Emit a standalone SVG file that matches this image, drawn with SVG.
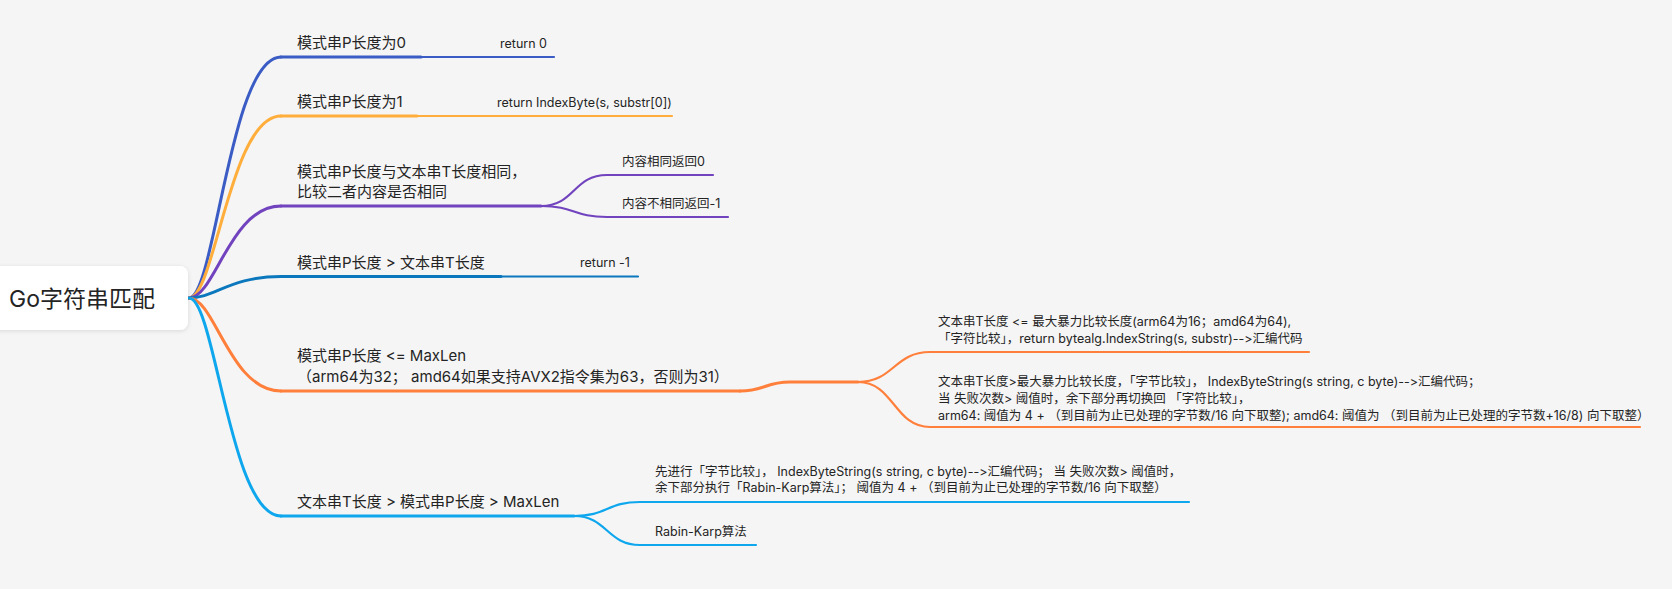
<svg xmlns="http://www.w3.org/2000/svg" width="1672" height="589" viewBox="0 0 1672 589">
<style>
text{font-family:Inter,"Noto Sans CJK SC",sans-serif;fill:#242424;font-feature-settings:"calt" 0,"liga" 0;font-variant-ligatures:none}
.m{font-size:15px}
.c{font-size:12.5px}
.r{font-size:23px}
path,line{fill:none;stroke-linecap:round}
.w3{stroke-width:3}
.w2{stroke-width:2.2}
.b1{stroke:#3A5CC4}.b2{stroke:#FFAE3C}.b3{stroke:#7143BE}.b4{stroke:#0B77BD}.b5{stroke:#FF7F3B}.b6{stroke:#0EA7EE}
</style>
<defs>
<filter id="sh" x="-20%" y="-30%" width="140%" height="160%">
<feDropShadow dx="0" dy="1" stdDeviation="2" flood-color="#000" flood-opacity="0.12"/>
</filter>
</defs>
<rect width="1672" height="589" fill="#F5F5F5"/>
<g id="connectors">
<path class="b1 w3" d="M189,298 C215,298 230,57 281,57"/>
<path class="b2 w3" d="M189,298 C215,298 230,116 281,116"/>
<path class="b3 w3" d="M189,298 C215,298 230,206 281,206"/>
<path class="b4 w3" d="M189,298 C215,298 230,276.5 281,276.5"/>
<path class="b5 w3" d="M189,298 C215,298 230,391 281,391"/>
<path class="b6 w3" d="M189,298 C215,298 230,516 281,516"/>
<path class="b3 w2" d="M541,206 C575,206 573,175 607,175"/>
<path class="b3 w2" d="M541,206 C575,206 573,217 607,217"/>
<path class="b5 w3" d="M740,391 C765,391 765,382 790,382 L858,382"/>
<path class="b5 w2" d="M858,382 C894,382 894,352 930,352"/>
<path class="b5 w2" d="M858,382 C894,382 894,427 930,427"/>
<path class="b6 w2" d="M574,516 C607,516 607,502 640,502"/>
<path class="b6 w2" d="M574,516 C607,516 607,545 640,545"/>
</g>
<g id="root">
<rect x="-10" y="266" width="198" height="64" rx="8" fill="#FFFFFF" filter="url(#sh)"/>
<text class="r" x="9" y="307">Go字符串匹配</text>
</g>
<g id="n1">
<line class="b1 w3" x1="281" y1="57" x2="421" y2="57"/>
<text class="m" x="297" y="48">模式串P长度为0</text>
</g>
<g id="n1c">
<line class="b1 w2" x1="421" y1="57" x2="554" y2="57"/>
<text class="c" x="500" y="48">return 0</text>
</g>
<g id="n2">
<line class="b2 w3" x1="281" y1="116" x2="417" y2="116"/>
<text class="m" x="297" y="107">模式串P长度为1</text>
</g>
<g id="n2c">
<line class="b2 w2" x1="417" y1="116" x2="672" y2="116"/>
<text class="c" x="497" y="107">return IndexByte(s, substr[0])</text>
</g>
<g id="n3">
<line class="b3 w3" x1="281" y1="206" x2="541" y2="206"/>
<text class="m" x="297" y="177">模式串P长度与文本串T长度相同，</text>
<text class="m" x="297" y="197">比较二者内容是否相同</text>
</g>
<g id="n3c1">
<line class="b3 w2" x1="607" y1="175" x2="713" y2="175"/>
<text class="c" x="622" y="166">内容相同返回0</text>
</g>
<g id="n3c2">
<line class="b3 w2" x1="607" y1="217" x2="728" y2="217"/>
<text class="c" x="622" y="208">内容不相同返回-1</text>
</g>
<g id="n4">
<line class="b4 w3" x1="281" y1="276.5" x2="501" y2="276.5"/>
<text class="m" x="297" y="268">模式串P长度 &gt; 文本串T长度</text>
</g>
<g id="n4c">
<line class="b4 w2" x1="501" y1="276.5" x2="638" y2="276.5"/>
<text class="c" x="580" y="267">return -1</text>
</g>
<g id="n5">
<line class="b5 w3" x1="281" y1="391" x2="740" y2="391"/>
<text class="m" x="297" y="361">模式串P长度 &lt;= MaxLen</text>
<text class="m" x="297" y="382">（arm64为32； amd64如果支持AVX2指令集为63，否则为31）</text>
</g>
<g id="n5c1">
<line class="b5 w2" x1="930" y1="352" x2="1309" y2="352"/>
<text class="c" x="938" y="326">文本串T长度 &lt;= 最大暴力比较长度(arm64为16；amd64为64),</text>
<text class="c" x="938" y="343">「字符比较」，return bytealg.IndexString(s, substr)--&gt;汇编代码</text>
</g>
<g id="n5c2">
<line class="b5 w2" x1="930" y1="427" x2="1640" y2="427"/>
<text class="c" x="938" y="386">文本串T长度&gt;最大暴力比较长度，「字节比较」， IndexByteString(s string, c byte)--&gt;汇编代码；</text>
<text class="c" x="938" y="403">当 失败次数&gt; 阈值时，余下部分再切换回 「字符比较」，</text>
<text class="c" x="938" y="420">arm64: 阈值为 4 + （到目前为止已处理的字节数/16 向下取整); amd64: 阈值为 （到目前为止已处理的字节数+16/8) 向下取整）</text>
</g>
<g id="n6">
<line class="b6 w3" x1="281" y1="516" x2="574" y2="516"/>
<text class="m" x="297" y="507">文本串T长度 &gt; 模式串P长度 &gt; MaxLen</text>
</g>
<g id="n6c1">
<line class="b6 w2" x1="640" y1="502" x2="1189" y2="502"/>
<text class="c" x="655" y="476">先进行「字节比较」， IndexByteString(s string, c byte)--&gt;汇编代码； 当 失败次数&gt; 阈值时，</text>
<text class="c" x="655" y="492">余下部分执行「Rabin-Karp算法」； 阈值为 4 + （到目前为止已处理的字节数/16 向下取整）</text>
</g>
<g id="n6c2">
<line class="b6 w2" x1="640" y1="545" x2="756" y2="545"/>
<text class="c" x="655" y="536">Rabin-Karp算法</text>
</g>
</svg>
